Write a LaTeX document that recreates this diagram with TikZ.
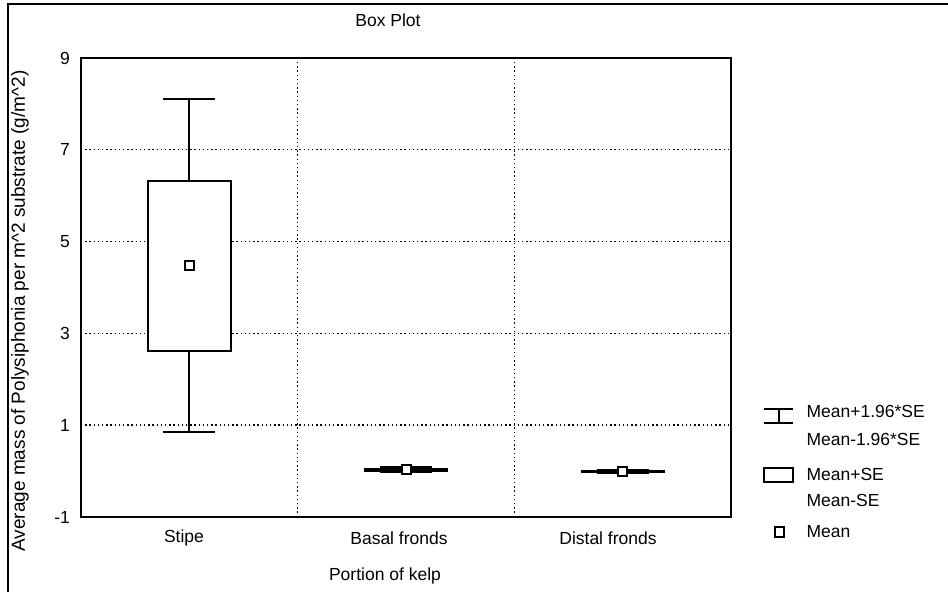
\documentclass[tikz,border=0pt]{standalone}
\usepackage{fontspec}
\setmainfont{Liberation Sans}
\usetikzlibrary{positioning}

\begin{document}
\begin{tikzpicture}[
            x=1pt, y=1pt,
            font=\fontsize{17.5}{20}\selectfont,
            frame/.style={draw, line width=2pt},
            grid line/.style={line width=1.4pt, dash pattern=on 1.4pt off 2.8pt},
            whisker/.style={line width=2pt},
            se box/.style={draw, line width=2pt, fill=white},
            mean mark/.style={rectangle, draw, line width=2pt, fill=white, minimum size=9pt, inner sep=0pt}
        ]
        \useasboundingbox (0,0) rectangle (948,592);
        \draw[line width=1.5pt] (8,0) -- (8,588) -- (948,588);
        \node (title) at (388,572) {Box Plot};
        \begin{scope}[shift={(81,120.9)}, x=216.67pt, y=45.9pt]
            \foreach \v in {1,3,5,7}
                \draw[grid line] (0,\v) -- (3,\v);
            \foreach \c in {1,2}
                \draw[grid line] (\c,-1) -- (\c,9);
            \foreach \v in {-1,1,...,9}
                \node[anchor=east, inner sep=0pt] (tick\v) at (-0.05,\v) {\v};
            \foreach \c/\m/\s [count=\i] in {0.5/4.47/1.85, 1.5/0.03/0.025, 2.5/-0.01/0.012} {
                \pgfmathsetmacro\hi{\m+1.96*\s}
                \pgfmathsetmacro\lo{\m-1.96*\s}
                \draw[whisker] (\c-0.12,\hi) -- (\c+0.12,\hi)
                    (\c,\hi) -- (\c,\lo)
                    (\c-0.12,\lo) -- (\c+0.12,\lo);
                \draw[se box] (\c-0.19,\m-\s) rectangle (\c+0.19,\m+\s);
                \node[mean mark] (mean\i) at (\c,\m) {};
            }
            \draw[frame] (0,-1) rectangle (3,9);
        \end{scope}
        \node (stipe) at (184,54) {Stipe};
        \node (basal) at (399,54) {Basal fronds};
        \node (distal) at (608,54) {Distal fronds};
        \node (xlabel) at (385,16) {Portion of kelp};
        \node[rotate=90, font=\fontsize{19}{22}\selectfont] (ylabel) at (20,281) {Average mass of Polysiphonia per m\^{}2 substrate (g/m\^{}2)};
        \draw[whisker] (764,183) -- (793,183)
            (778.5,183) -- (778.5,169)
            (764,169) -- (793,169);
        \draw[se box] (764,110) rectangle (793,124);
        \node[mean mark] (legmean) at (779,60) {};
        \node[anchor=west] (leghi) at (803,181) {Mean+1.96*SE};
        \node[anchor=west] (leglo) at (803,153) {Mean-1.96*SE};
        \node[anchor=west] (legsehi) at (803,118) {Mean+SE};
        \node[anchor=west] (legselo) at (803,92) {Mean-SE};
        \node[anchor=west] (legmeantext) at (803,60) {Mean};
\end{tikzpicture}
\end{document}
